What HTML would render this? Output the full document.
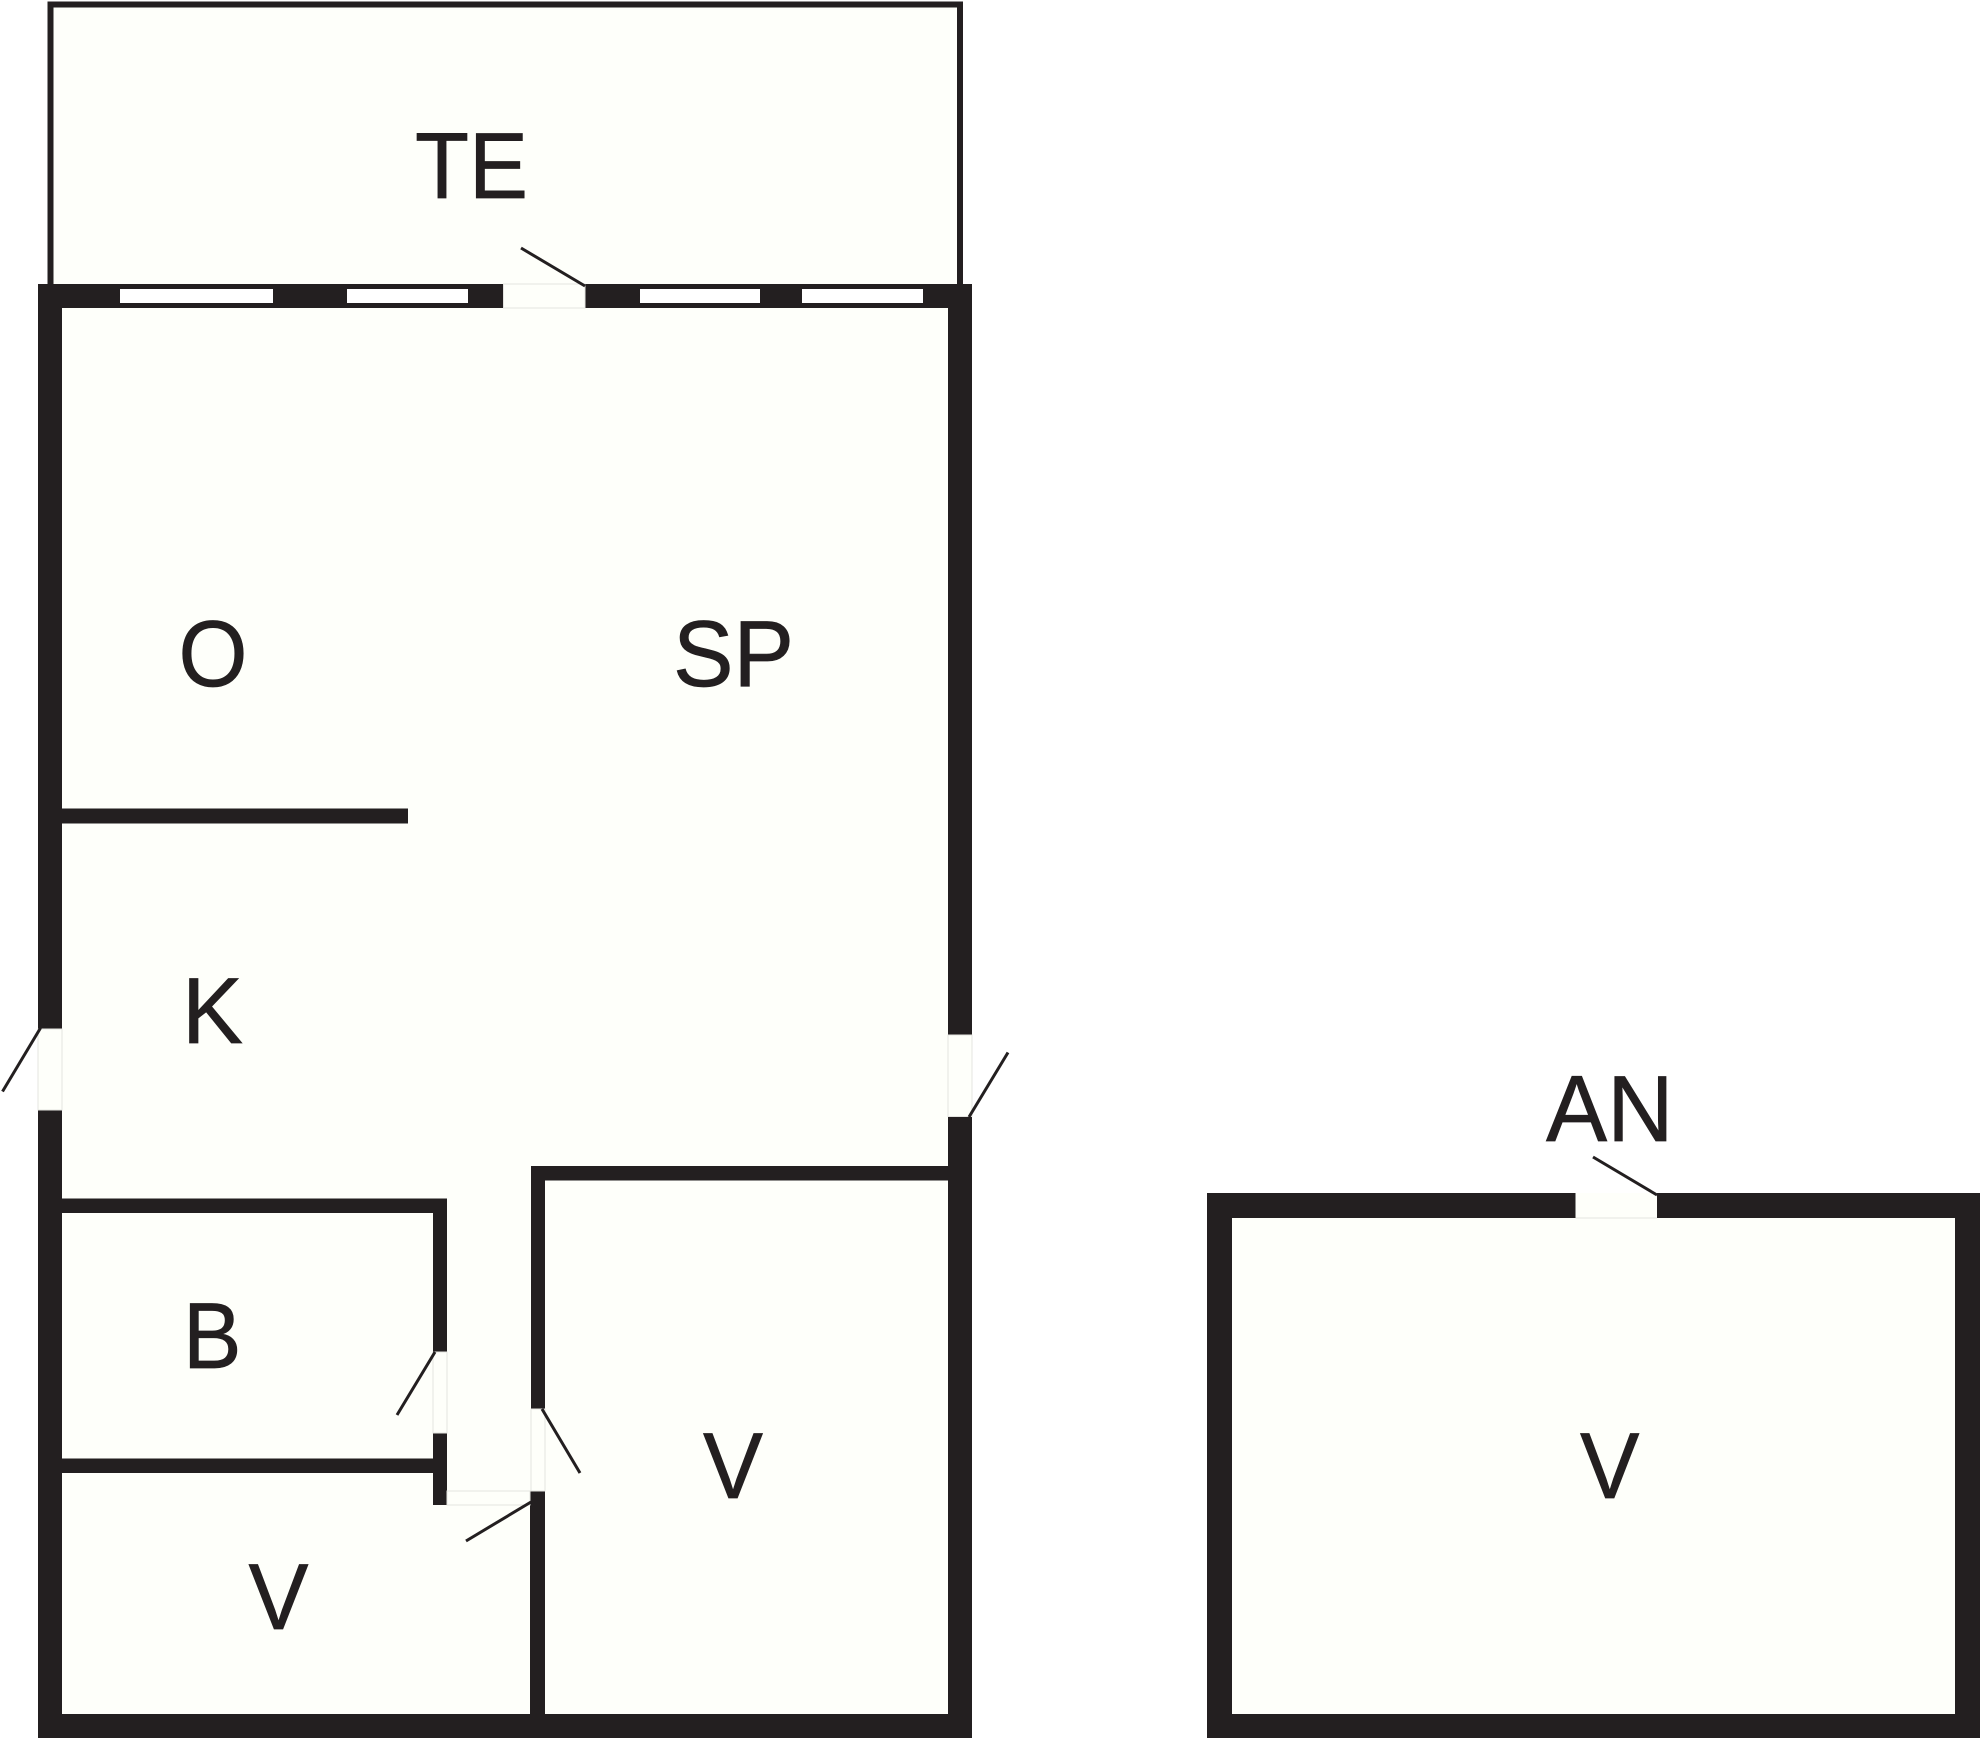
<!DOCTYPE html>
<html><head><meta charset="utf-8"><style>
html,body{margin:0;padding:0;background:#fff;width:1980px;height:1738px;overflow:hidden}
svg{display:block}
text{font-family:"Liberation Sans",sans-serif;font-size:94px;fill:#231f20;stroke:#231f20;stroke-width:.7px}
</style></head><body>
<svg width="1980" height="1738" viewBox="0 0 1980 1738" xmlns="http://www.w3.org/2000/svg">
<rect width="1980" height="1738" fill="#fff"/>
<!-- terrace -->
<path d="M50.500 290V4.500H960V290" fill="#fefffa" stroke="#231f20" stroke-width="6"/>
<!-- main plan -->
<rect x="38" y="284" width="934" height="1454" fill="#231f20"/>
<rect x="62" y="308" width="886" height="1406" fill="#fefffa"/>
<g fill="#fff">
<rect x="120" y="289" width="153" height="14"/>
<rect x="347" y="289" width="121" height="14"/>
<rect x="640" y="289" width="120" height="14"/>
<rect x="802" y="289" width="121" height="14"/>
</g>
<!-- inner walls -->
<g fill="#231f20">
<rect x="62" y="808.500" width="346" height="15"/>
<rect x="62" y="1198.500" width="385" height="14.500"/>
<rect x="433" y="1198.500" width="14" height="153.500"/>
<rect x="433" y="1433" width="14" height="72"/>
<rect x="62" y="1458.500" width="371" height="14.500"/>
<rect x="531" y="1166" width="417" height="14.500"/>
<rect x="531" y="1166" width="14" height="243"/>
<rect x="530" y="1491" width="15" height="223"/>
</g>
<!-- door gaps -->
<g fill="#fefffa" stroke="#e4e4e0" stroke-width="1">
<rect x="503.500" y="284" width="81.500" height="24"/>
<rect x="38" y="1029" width="24" height="81"/>
<rect x="948" y="1035" width="24" height="81.500"/>
<rect x="433" y="1352" width="14" height="81"/>
<rect x="531" y="1409" width="14" height="82"/>
<rect x="447" y="1491" width="83" height="14"/>
</g>
<!-- second plan -->
<rect x="1207" y="1193" width="773" height="545" fill="#231f20"/>
<rect x="1232" y="1218" width="723" height="496" fill="#fefffa"/>
<rect x="1575.500" y="1193" width="81.500" height="25" fill="#fefffa"/>
<line x1="1575.500" y1="1218" x2="1657" y2="1218" stroke="#e4e4e0" stroke-width="1"/>
<!-- swings -->
<g stroke="#231f20" stroke-width="3" fill="none">
<line x1="521" y1="248" x2="585" y2="286"/>
<line x1="40.500" y1="1028" x2="2.500" y2="1091.500"/>
<line x1="969" y1="1117" x2="1008" y2="1052.500"/>
<line x1="435" y1="1352" x2="397" y2="1415"/>
<line x1="542" y1="1409" x2="580" y2="1473"/>
<line x1="531" y1="1502" x2="466" y2="1541"/>
<line x1="1593" y1="1157" x2="1657" y2="1195"/>
</g>
<!-- labels -->
<text x="415" y="198" textLength="113" lengthAdjust="spacingAndGlyphs">TE</text>
<text x="178.500" y="686" textLength="69" lengthAdjust="spacingAndGlyphs">O</text>
<text x="673" y="686" textLength="121" lengthAdjust="spacingAndGlyphs">SP</text>
<text x="182" y="1043" textLength="61" lengthAdjust="spacingAndGlyphs">K</text>
<text x="183" y="1368" textLength="58.500" lengthAdjust="spacingAndGlyphs">B</text>
<text x="703" y="1498" textLength="60" lengthAdjust="spacingAndGlyphs">V</text>
<text x="248.500" y="1629" textLength="60" lengthAdjust="spacingAndGlyphs">V</text>
<text x="1580" y="1498" textLength="59.500" lengthAdjust="spacingAndGlyphs">V</text>
<text x="1546" y="1141" textLength="127.500" lengthAdjust="spacingAndGlyphs">AN</text>
</svg>
</body></html>
